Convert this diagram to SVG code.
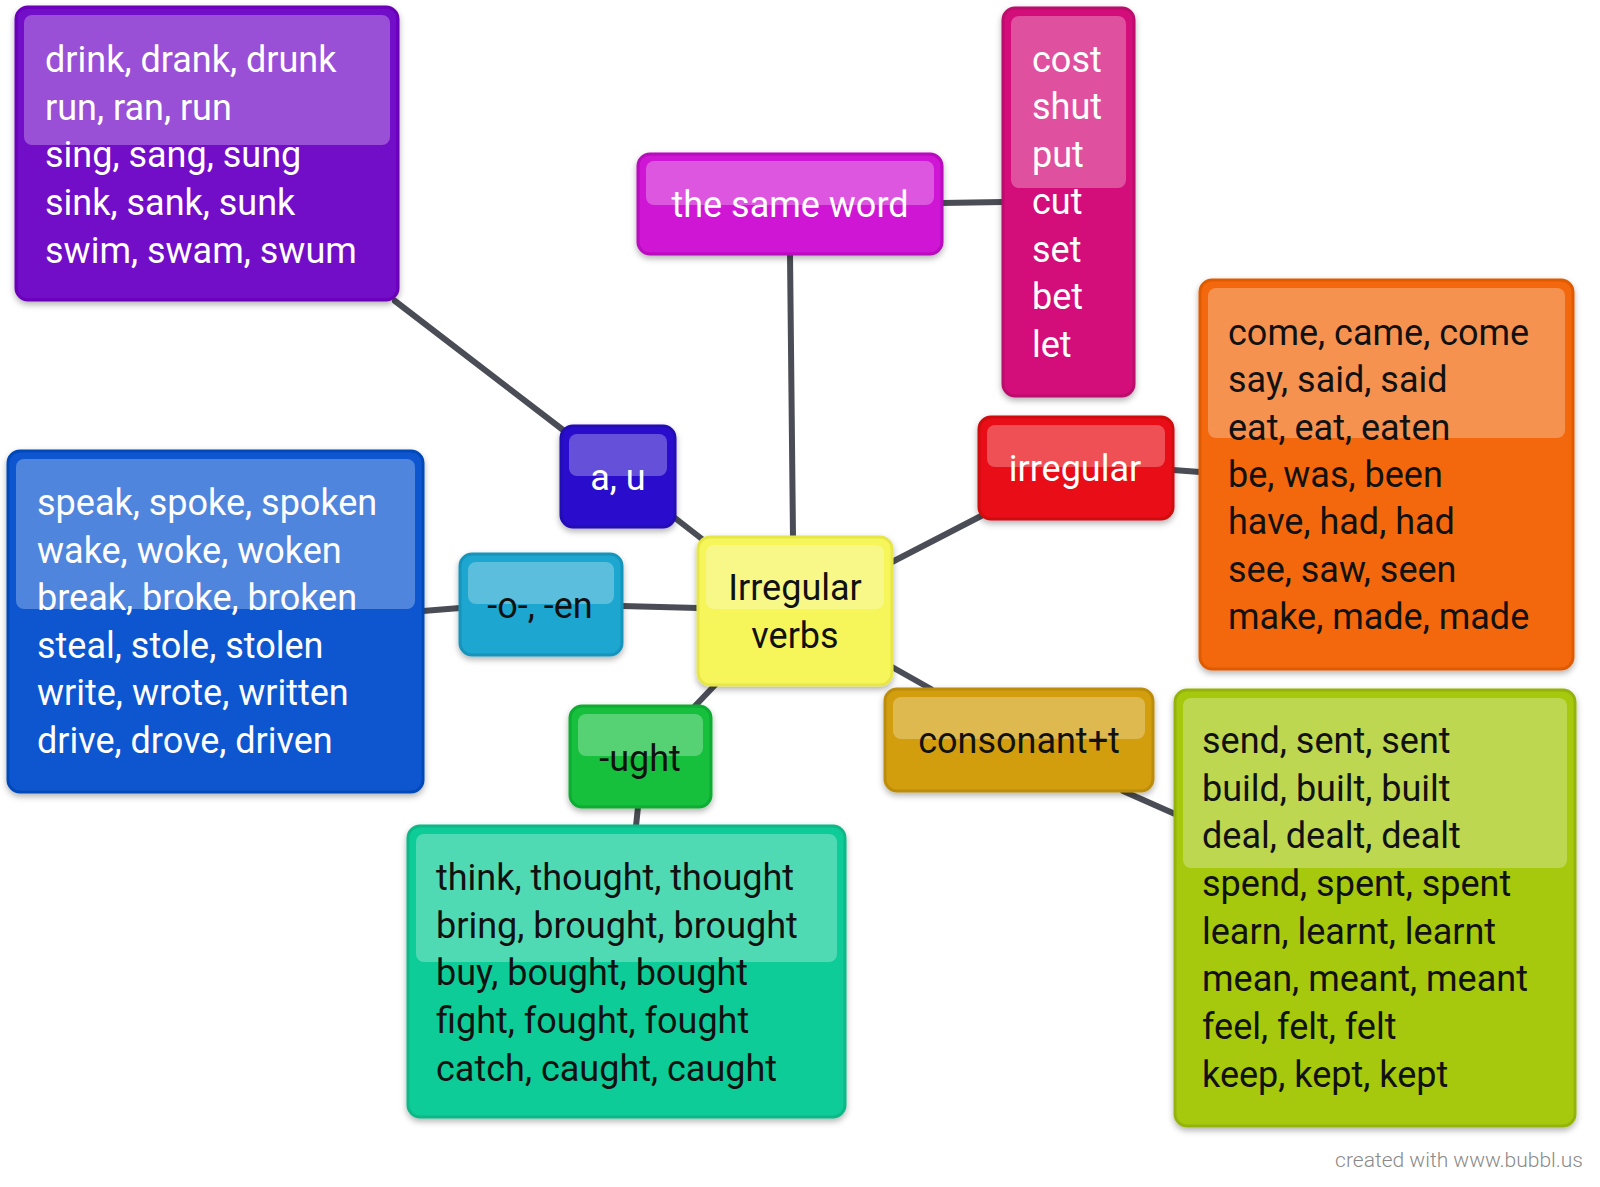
<svg xmlns="http://www.w3.org/2000/svg" width="1600" height="1187" viewBox="0 0 1600 1187">
<style>
.t{font-family:Roboto,"Liberation Sans",sans-serif;font-size:36px;fill:#fff}
.k{fill:#111}
.g{fill:#fff;opacity:0.28}
.c line{stroke:#4a4d55;stroke-width:6;stroke-linecap:round}
</style>
<defs>
<filter id="sh" x="-10%" y="-10%" width="120%" height="130%"><feDropShadow dx="0" dy="3" stdDeviation="3" flood-color="#000" flood-opacity="0.3"/></filter>
</defs>
<rect width="1600" height="1187" fill="#fff"/>
<g class="c">
<line x1="395" y1="301" x2="567" y2="433"/>
<line x1="675" y1="518" x2="702" y2="539"/>
<line x1="790" y1="254" x2="793" y2="537"/>
<line x1="942" y1="203" x2="1003" y2="202"/>
<line x1="983" y1="515" x2="892" y2="562"/>
<line x1="1173" y1="470" x2="1200" y2="472"/>
<line x1="622" y1="606" x2="698" y2="608"/>
<line x1="423" y1="611" x2="460" y2="608"/>
<line x1="715" y1="685" x2="695" y2="706"/>
<line x1="638" y1="807" x2="636" y2="826"/>
<line x1="892" y1="667" x2="931" y2="689"/>
<line x1="1123" y1="791" x2="1175" y2="814"/>
</g>
<g id="purple"><rect x="16" y="7" width="382" height="293" rx="12" fill="#7208c8" stroke="#6a05b8" stroke-width="3" filter="url(#sh)"/><rect class="g" x="24" y="15" width="366" height="130" rx="8"/>
<text class="t" x="45" y="72">drink, drank, drunk</text><text class="t" x="45" y="120">run, ran, run</text><text class="t" x="45" y="167">sing, sang, sung</text><text class="t" x="45" y="215">sink, sank, sunk</text><text class="t" x="45" y="263">swim, swam, swum</text></g>
<g id="same"><rect x="638" y="154" width="304" height="100" rx="12" fill="#cf14d4" stroke="#b80cbd" stroke-width="3" filter="url(#sh)"/><rect class="g" x="646" y="161" width="288" height="44" rx="8"/>
<text class="t" x="790" y="217" text-anchor="middle">the same word</text></g>
<g id="cost"><rect x="1003" y="8" width="131" height="388" rx="12" fill="#d3107a" stroke="#bb0a6c" stroke-width="3" filter="url(#sh)"/><rect class="g" x="1011" y="16" width="115" height="172" rx="8"/>
<text class="t" x="1032" y="72">cost</text><text class="t" x="1032" y="119">shut</text><text class="t" x="1032" y="167">put</text><text class="t" x="1032" y="214">cut</text><text class="t" x="1032" y="262">set</text><text class="t" x="1032" y="309">bet</text><text class="t" x="1032" y="357">let</text></g>
<g id="orange"><rect x="1200" y="280" width="373" height="389" rx="12" fill="#f3680a" stroke="#e05a05" stroke-width="3" filter="url(#sh)"/><rect class="g" x="1208" y="288" width="357" height="150" rx="8"/>
<text class="t k" x="1228" y="345">come, came, come</text><text class="t k" x="1228" y="392">say, said, said</text><text class="t k" x="1228" y="440">eat, eat, eaten</text><text class="t k" x="1228" y="487">be, was, been</text><text class="t k" x="1228" y="534">have, had, had</text><text class="t k" x="1228" y="582">see, saw, seen</text><text class="t k" x="1228" y="629">make, made, made</text></g>
<g id="irregular"><rect x="979" y="417" width="194" height="102" rx="12" fill="#e80c14" stroke="#d00810" stroke-width="3" filter="url(#sh)"/><rect class="g" x="987" y="425" width="178" height="42" rx="8"/>
<text class="t" x="1075" y="481" text-anchor="middle">irregular</text></g>
<g id="au"><rect x="561" y="426" width="114" height="101" rx="12" fill="#2a0ccc" stroke="#2208b4" stroke-width="3" filter="url(#sh)"/><rect class="g" x="569" y="434" width="98" height="42" rx="8"/>
<text class="t" x="618" y="490" text-anchor="middle">a, u</text></g>
<g id="blue"><rect x="8" y="451" width="415" height="341" rx="12" fill="#0a56d0" stroke="#0648b8" stroke-width="3" filter="url(#sh)"/><rect class="g" x="16" y="459" width="399" height="150" rx="8"/>
<text class="t" x="37" y="515">speak, spoke, spoken</text><text class="t" x="37" y="563">wake, woke, woken</text><text class="t" x="37" y="610">break, broke, broken</text><text class="t" x="37" y="658">steal, stole, stolen</text><text class="t" x="37" y="705">write, wrote, written</text><text class="t" x="37" y="753">drive, drove, driven</text></g>
<g id="oen"><rect x="460" y="554" width="162" height="101" rx="12" fill="#1ea6d0" stroke="#1494bc" stroke-width="3" filter="url(#sh)"/><rect class="g" x="468" y="562" width="146" height="42" rx="8"/>
<text class="t k" x="540" y="618" text-anchor="middle">-o-, -en</text></g>
<g id="center"><rect x="698" y="537" width="194" height="148" rx="12" fill="#f6f65a" stroke="#e6e64a" stroke-width="3" filter="url(#sh)"/><rect class="g" x="706" y="545" width="178" height="64" rx="8"/>
<text class="t k" x="795" y="600" text-anchor="middle">Irregular</text><text class="t k" x="795" y="648" text-anchor="middle">verbs</text></g>
<g id="ught"><rect x="570" y="706" width="141" height="101" rx="12" fill="#14c03c" stroke="#0eac32" stroke-width="3" filter="url(#sh)"/><rect class="g" x="578" y="714" width="125" height="42" rx="8"/>
<text class="t k" x="640" y="771" text-anchor="middle">-ught</text></g>
<g id="teal"><rect x="408" y="826" width="437" height="291" rx="12" fill="#0ecc98" stroke="#0ab886" stroke-width="3" filter="url(#sh)"/><rect class="g" x="416" y="834" width="421" height="128" rx="8"/>
<text class="t k" x="436" y="890">think, thought, thought</text><text class="t k" x="436" y="938">bring, brought, brought</text><text class="t k" x="436" y="985">buy, bought, bought</text><text class="t k" x="436" y="1033">fight, fought, fought</text><text class="t k" x="436" y="1081">catch, caught, caught</text></g>
<g id="consonant"><rect x="885" y="689" width="268" height="102" rx="12" fill="#d29e0e" stroke="#bc8c08" stroke-width="3" filter="url(#sh)"/><rect class="g" x="893" y="697" width="252" height="42" rx="8"/>
<text class="t k" x="1019" y="753" text-anchor="middle">consonant+t</text></g>
<g id="lime"><rect x="1175" y="690" width="400" height="436" rx="12" fill="#a6c80c" stroke="#94b408" stroke-width="3" filter="url(#sh)"/><rect class="g" x="1183" y="698" width="384" height="170" rx="8"/>
<text class="t k" x="1202" y="753">send, sent, sent</text><text class="t k" x="1202" y="801">build, built, built</text><text class="t k" x="1202" y="848">deal, dealt, dealt</text><text class="t k" x="1202" y="896">spend, spent, spent</text><text class="t k" x="1202" y="944">learn, learnt, learnt</text><text class="t k" x="1202" y="991">mean, meant, meant</text><text class="t k" x="1202" y="1039">feel, felt, felt</text><text class="t k" x="1202" y="1087">keep, kept, kept</text></g>
<text x="1583" y="1167" text-anchor="end" style="font-family:Roboto,'Liberation Sans',sans-serif;font-size:21px;fill:#8a8a8a;font-weight:300">created with www.bubbl.us</text>
</svg>
